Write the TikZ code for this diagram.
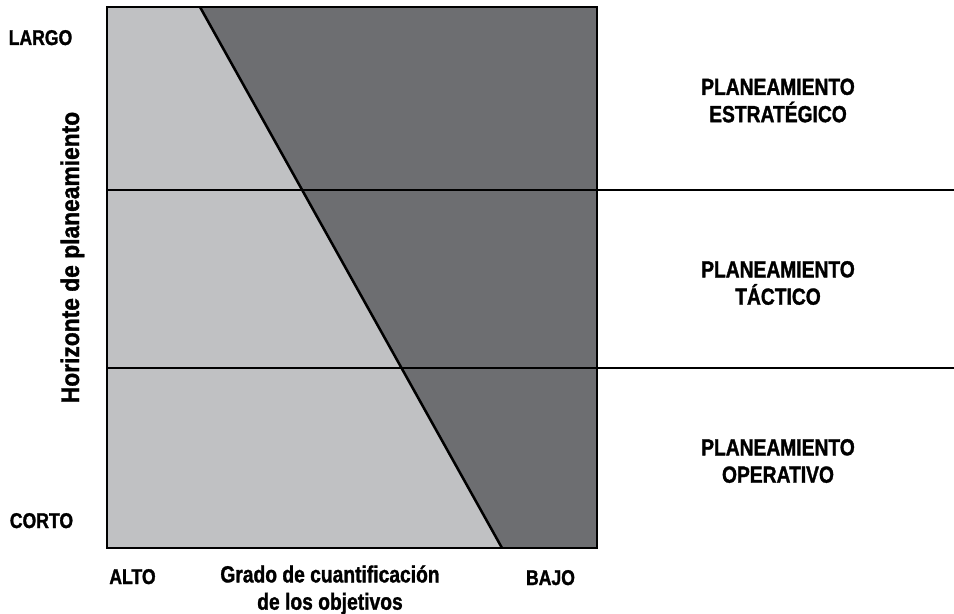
\documentclass[tikz,border=0pt]{standalone}
\usepackage{fontspec}
\setmainfont{Liberation Sans}[FakeStretch=0.825, BoldFeatures={FakeBold=1.3}]
\newfontfamily\ejefont{Liberation Sans}[FakeStretch=0.9, BoldFeatures={FakeBold=1.3}]
\definecolor{claro}{HTML}{C0C1C3}
\definecolor{oscuro}{HTML}{6D6E71}

\begin{document}
\begin{tikzpicture}[x=0.75pt,y=-0.75pt,
	etiqueta/.style={font=\bfseries\fontsize{17.5}{20.5}\selectfont, align=center, inner sep=0pt},
	extremo/.style={font=\bfseries\fontsize{16}{19}\selectfont, inner sep=0pt, anchor=base},
	eje/.style={font=\ejefont\bfseries\fontsize{19}{23}\selectfont, inner sep=0pt},
	linea/.style={line width=1.9pt}]
			\useasboundingbox (0,0) rectangle (954,614);
			% esquinas y diagonal
			\coordinate (so) at (107,7);
			\coordinate (se) at (597,7);
			\coordinate (ie) at (597,548);
			\coordinate (dsup) at (200,7);
			\coordinate (dinf) at (502,548);
			\fill[claro] (so) rectangle (ie);
			\fill[oscuro] (dsup) -- (se) -- (ie) -- (dinf) -- cycle;
			% niveles
			\coordinate (n1o) at (107,190);
			\coordinate (n1e) at (954,190);
			\coordinate (n2o) at (107,368);
			\coordinate (n2e) at (954,368);
			\draw[linea] (n1o) -- (n1e);
			\draw[linea] (n2o) -- (n2e);
			\draw[linea] (dsup) -- (dinf);
			\draw[linea] (so) rectangle (ie);
			% ejes
			\node[extremo] (largo) at (40.5,45) {LARGO};
			\node[extremo] (corto) at (41.5,528) {CORTO};
			\node[extremo] (alto) at (132.5,584) {ALTO};
			\node[extremo] (bajo) at (550.5,585) {BAJO};
			\node[etiqueta, anchor=north] (grado) at (330,565) {Grado de cuantificación\\de los objetivos};
			\node[eje, rotate=90, anchor=base] (horizonte) at (79,257.5) {Horizonte de planeamiento};
			% niveles de planeamiento
			\node[etiqueta] (estrategico) at (778,100.5) {PLANEAMIENTO\\ESTRATÉGICO};
			\node[etiqueta] (tactico) at (778,283) {PLANEAMIENTO\\TÁCTICO};
			\node[etiqueta] (operativo) at (778,461) {PLANEAMIENTO\\OPERATIVO};
		\end{tikzpicture}
\end{document}
